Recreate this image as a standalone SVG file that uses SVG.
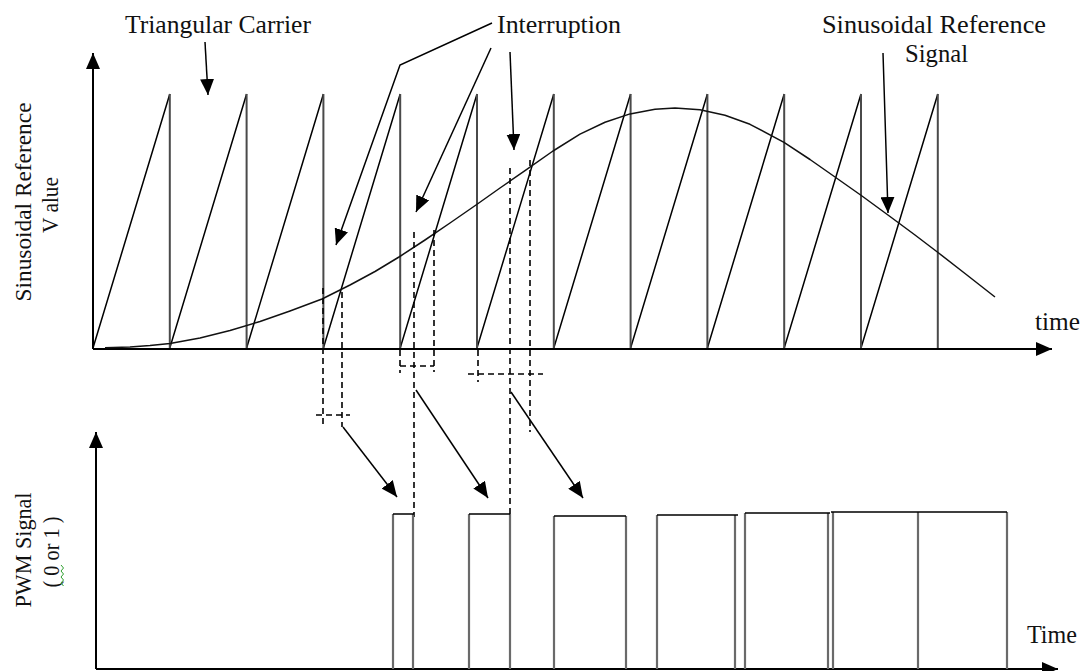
<svg xmlns="http://www.w3.org/2000/svg" width="1083" height="671" viewBox="0 0 1083 671">
<style>
.lbl{font-family:"Liberation Serif","Times New Roman",serif;font-size:25px;fill:#111}
.ylbl{font-family:"Liberation Serif","Times New Roman",serif;font-size:23px;fill:#111}
.axis{stroke:#000;stroke-width:2;fill:none}
.ramp{stroke:#000;stroke-width:1.5;fill:none}
.drop{stroke:#4a4a4a;stroke-width:2;fill:none}
.sine{stroke:#111;stroke-width:1.5;fill:none;stroke-linejoin:round}
.dash{stroke:#000;stroke-width:1.6;stroke-dasharray:6 4;fill:none}
.pv{stroke:#6a6a6a;stroke-width:2.2;fill:none}
.pt{stroke:#000;stroke-width:1.6;fill:none}
.conn{stroke:#000;stroke-width:1.5;fill:none}
</style>
<defs>
<marker id="ah" viewBox="0 0 16 14" refX="16" refY="7" markerWidth="16" markerHeight="14" markerUnits="userSpaceOnUse" orient="auto"><path d="M0,0 L16,7 L0,14 z" fill="#000"/></marker>
<marker id="ax" viewBox="0 0 16 14" refX="16" refY="7" markerWidth="16" markerHeight="14" markerUnits="userSpaceOnUse" orient="auto"><path d="M0,0 L16,7 L0,14 z" fill="#000"/></marker>
</defs>

<g id="axes">
<line class="axis" x1="93" y1="349" x2="93" y2="53" marker-end="url(#ax)"/>
<line class="axis" x1="93" y1="349" x2="1052" y2="349" marker-end="url(#ax)"/>
<line class="axis" x1="96" y1="669" x2="96" y2="432" marker-end="url(#ax)"/>
<line class="axis" x1="96" y1="669" x2="1058" y2="669" marker-end="url(#ax)"/>
</g>

<g id="carrier">
<path class="ramp" d="M93,348 L169.8,94 M169.8,348 L246.6,94 M246.6,348 L323.4,94 M323.4,348 L400.2,94 M400.2,348 L477,94 M477,348 L553.8,94 M553.8,348 L630.6,94 M630.6,348 L707.4,94 M707.4,348 L784.2,94 M784.2,348 L861,94 M861,348 L937.8,94"/>
<path class="drop" d="M169.8,94 V348 M246.6,94 V348 M323.4,94 V348 M400.2,94 V348 M477,94 V348 M553.8,94 V348 M630.6,94 V348 M707.4,94 V348 M784.2,94 V348 M861,94 V348 M937.8,94 V348"/>
</g>

<g id="reference">
<polyline class="sine" points="105,347.8 130,347 150,345.5 170,343.5 200,338 230,330.5 260,321.5 290,311 322,299 350,285 375,271.5 399,257 425,240 450,223 476,205 500,188 525,170.6 553,151 580,134.1 605,122.2 630,113.9 655,109.2 675,108 700,109.8 725,115.2 750,124.3 784,142.3 810,159.5 835,177 862,196 890,216.5 915,235 938,252.5 965,273.5 995,297"/>
</g>

<g id="projections">
<line class="dash" x1="323" y1="288" x2="323" y2="428"/>
<line class="dash" x1="342" y1="292" x2="342" y2="427"/>
<line class="dash" x1="316" y1="415" x2="350" y2="415"/>
<line class="dash" x1="400" y1="350" x2="400" y2="373"/>
<line class="dash" x1="414" y1="232" x2="414" y2="517"/>
<line class="dash" x1="434" y1="230" x2="434" y2="372"/>
<line class="dash" x1="400" y1="366" x2="434" y2="366"/>
<line class="dash" x1="478" y1="350" x2="478" y2="382"/>
<line class="dash" x1="510" y1="168" x2="510" y2="530"/>
<line class="dash" x1="530" y1="160" x2="530" y2="432"/>
<line class="dash" x1="468" y1="374" x2="543" y2="374"/>
</g>

<g id="pwm">
<path class="pv" d="M393,669 V514 M413,669 V514 M469,669 V514 M510,669 V514 M554,669 V516 M626,669 V516 M657,669 V515 M735,669 V515 M745,669 V513 M828,669 V513 M833,669 V512 M918,669 V512 M1007,669 V512"/>
<path class="pt" d="M393,514 H414 M469,514 H510 M554,516 H626 M657,515 H738 M745,513 H830 M831,512 H1007"/>
</g>

<g id="connectors">
<line class="conn" x1="205" y1="42" x2="208" y2="95" marker-end="url(#ah)"/>
<polyline class="conn" points="492,23 400,65 336,245" marker-end="url(#ah)"/>
<line class="conn" x1="491" y1="48" x2="416" y2="212" marker-end="url(#ah)"/>
<line class="conn" x1="510" y1="52" x2="514" y2="150" marker-end="url(#ah)"/>
<line class="conn" x1="883" y1="53" x2="888" y2="213" marker-end="url(#ah)"/>
<line class="conn" x1="343" y1="427" x2="397" y2="497" marker-end="url(#ah)"/>
<line class="conn" x1="416" y1="390" x2="488" y2="498" marker-end="url(#ah)"/>
<line class="conn" x1="511" y1="392" x2="583" y2="498" marker-end="url(#ah)"/>
</g>

<g id="labels">
<text class="lbl" x="125" y="33" textLength="186" lengthAdjust="spacingAndGlyphs">Triangular Carrier</text>
<text class="lbl" x="497" y="33" textLength="124" lengthAdjust="spacingAndGlyphs">Interruption</text>
<text class="lbl" x="822" y="33" textLength="224" lengthAdjust="spacingAndGlyphs">Sinusoidal Reference</text>
<text class="lbl" x="905" y="62" textLength="63" lengthAdjust="spacingAndGlyphs">Signal</text>
<text class="lbl" x="1035" y="330" textLength="45" lengthAdjust="spacingAndGlyphs">time</text>
<text class="lbl" x="1027" y="643" textLength="50" lengthAdjust="spacingAndGlyphs">Time</text>
<text class="ylbl" transform="translate(31,202) rotate(-90)" text-anchor="middle" textLength="199" lengthAdjust="spacingAndGlyphs">Sinusoidal Reference</text>
<text class="ylbl" transform="translate(58,205) rotate(-90)" text-anchor="middle" textLength="56" lengthAdjust="spacingAndGlyphs">V alue</text>
<text class="ylbl" transform="translate(31,550) rotate(-90)" text-anchor="middle" textLength="115" lengthAdjust="spacingAndGlyphs">PWM Signal</text>
<text class="ylbl" transform="translate(59,552) rotate(-90)" text-anchor="middle" textLength="71" lengthAdjust="spacingAndGlyphs">( 0 or 1 )</text>
<polyline points="61,565 63.5,568 61,571 63.5,574 61,577 63.5,580 61,583 63.5,586" fill="none" stroke="#2e9e2e" stroke-width="1"/>
</g>
</svg>
